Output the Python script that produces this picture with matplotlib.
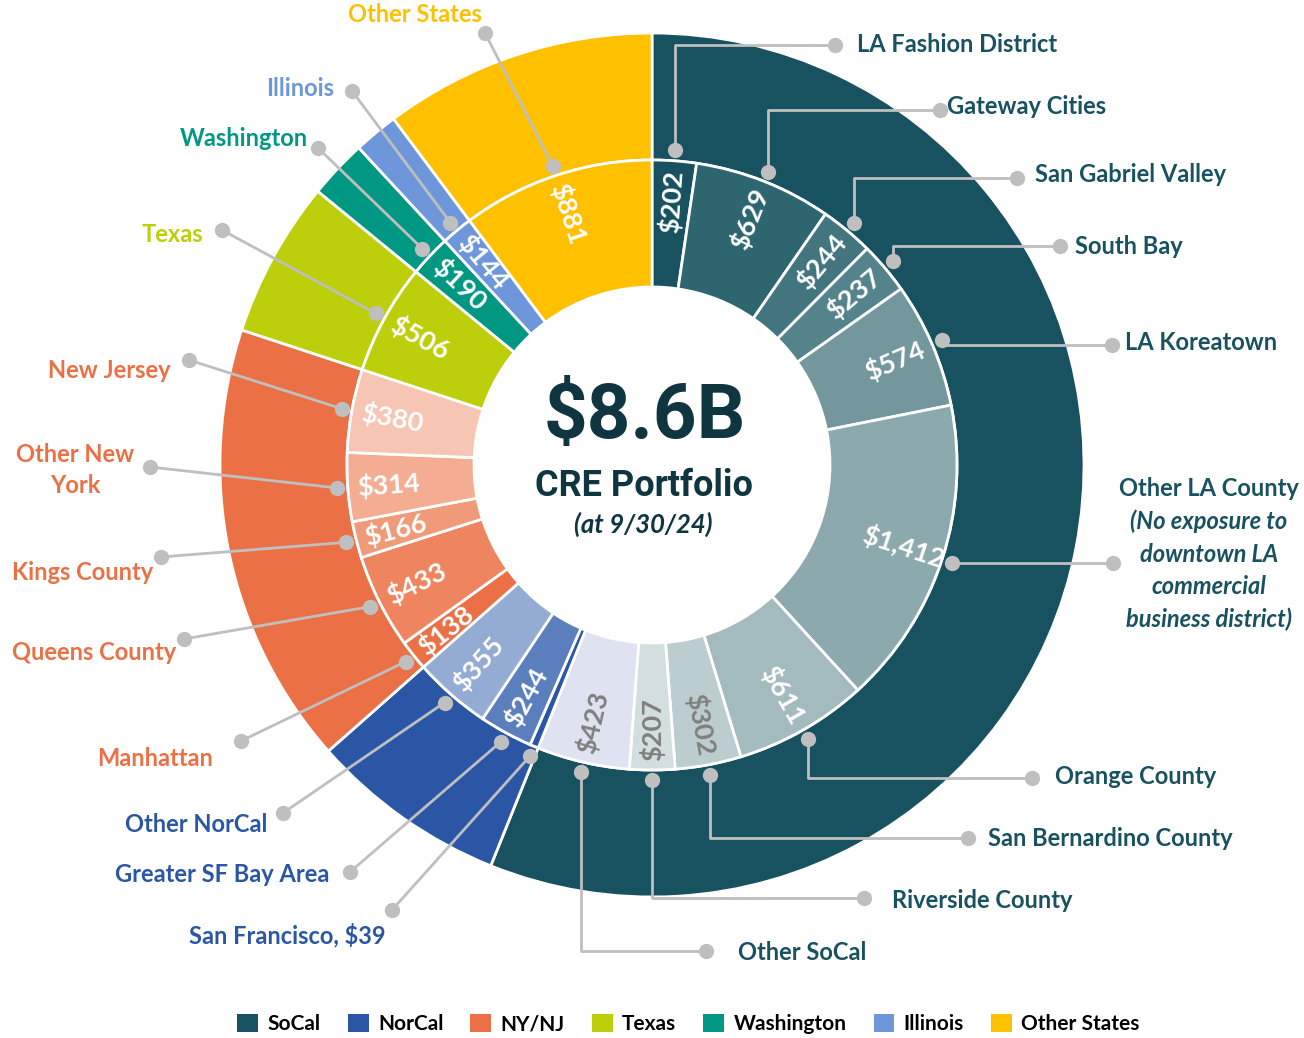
import numpy as np
import matplotlib.pyplot as plt
from matplotlib.patches import Patch

# pixel layout of the reference picture
W, H = 1304, 1038
CX, CY, R = 652, 465, 432


def px(x, y):
    # pixel position -> data coords (outer radius = 1)
    return (x - CX) / R, (CY - y) / R


regions = ['SoCal', 'NorCal', 'NY/NJ', 'Texas', 'Washington', 'Illinois', 'Other States']
region_colors = ['#18515f', '#2a56a5', '#eb7045', '#bccf0a', '#009882', '#6d96db', '#ffc000']

sub_names = ['LA Fashion District', 'Gateway Cities', 'San Gabriel Valley', 'South Bay',
             'LA Koreatown', 'Other LA County', 'Orange County', 'San Bernardino County',
             'Riverside County', 'Other SoCal',
             'San Francisco, $39', 'Greater SF Bay Area', 'Other NorCal',
             'Manhattan', 'Queens County', 'Kings County', 'Other New\nYork', 'New Jersey',
             'Texas', 'Washington', 'Illinois', 'Other States']
sub_values = [202, 629, 244, 237, 574, 1412, 611, 302, 207, 423,
              39, 244, 355,
              138, 433, 166, 314, 380,
              506, 190, 144, 881]
sub_region = [0] * 10 + [1] * 3 + [2] * 5 + [3, 4, 5, 6]
sub_colors = ['#18515f', '#2e6670', '#42757e', '#55838c', '#73979d', '#8caaae',
              '#a3babe', '#bccdd0', '#d3dee0', '#dfe3f1',
              '#2a56a5', '#5b7fbd', '#94abd3',
              '#eb7045', '#ef8560', '#f19a7a', '#f4ad93', '#f6c5b4',
              '#bccf0a', '#009882', '#6d96db', '#ffc000']
value_colors = ['white'] * 7 + ['#7f7f7f'] * 3 + [None] + ['white'] * 11  # None = no value label

# where the outside labels sit (pixels) and how they are aligned
label_pos = [(857, 45, 'left'), (947, 107, 'left'), (1035, 174, 'left'), (1075, 246, 'left'),
             (1125, 342, 'left'), (1209, 489, 'center'), (1055, 777, 'left'), (988, 838, 'left'),
             (892, 900, 'left'), (738, 953, 'left'),
             (386, 935, 'right'), (329, 875, 'right'), (267, 825, 'right'),
             (155, 758, 'center'), (176, 653, 'right'), (153, 573, 'right'), (75, 470, 'center'),
             (171, 370, 'right'), (203, 234, 'right'), (308, 139, 'right'), (334, 88, 'right'),
             (415, 14, 'center')]
# end of each leader line (pixels)
leader_end = [(835, 45), (940, 110), (1017, 178), (1060, 246), (1112, 345), (1113, 563),
              (1032, 778), (968, 838), (864, 898), (706, 951),
              (392, 910), (350, 872), (283, 813),
              (241, 741), (184, 639), (161, 557), (150, 467), (189, 360),
              (222, 230), (318, 148), (352, 91), (485, 33)]

region_totals = [sum(v for v, r in zip(sub_values, sub_region) if r == i) for i in range(len(regions))]
total = sum(sub_values)

plt.rcParams['font.family'] = ['Lato', 'DejaVu Sans']

fig = plt.figure(figsize=(W / 100, H / 100), dpi=100)
ax = fig.add_axes([0, 0, 1, 1])

ring_w = 127 / R
ax.pie(region_totals, radius=1.0, colors=region_colors, startangle=90, counterclock=False,
       wedgeprops=dict(width=ring_w, edgecolor='white', linewidth=2))
ax.pie(sub_values, radius=305 / R, colors=sub_colors, startangle=90, counterclock=False,
       wedgeprops=dict(width=ring_w, edgecolor='white', linewidth=2))

ax.set_xlim(-CX / R, (W - CX) / R)
ax.set_ylim(-(H - CY) / R, CY / R)
ax.set_aspect('equal')
ax.axis('off')

cum = np.cumsum(sub_values)
line_c = '#bfbfbf'
for i, v in enumerate(sub_values):
    mid = (cum[i] - v / 2) / total * 360
    th = np.deg2rad(90 - mid)
    rot = ((90 - mid + 89) % 180) - 89
    if value_colors[i] is not None:
        ax.text(0.612 * np.cos(th), 0.612 * np.sin(th), f'${v:,}', rotation=rot,
                rotation_mode='anchor', ha='center', va='center', fontsize=19.5,
                fontweight='bold', color=value_colors[i], zorder=5)

    # leader line
    sx, sy = 0.73 * np.cos(th), 0.73 * np.sin(th)
    ex, ey = px(*leader_end[i])
    if sub_region[i] == 0:
        xs, ys = [sx, sx, ex], [sy, ey, ey]
    else:
        xs, ys = [sx, ex], [sy, ey]
    ax.plot(xs, ys, color=line_c, lw=2, zorder=3, solid_capstyle='round')
    ax.plot([sx, ex], [sy, ey], 'o', color=line_c, ms=11, zorder=4, markeredgewidth=0)

    # outside label
    lx, ly, ha = label_pos[i]
    c = region_colors[sub_region[i]]
    tx, ty = px(lx, ly)
    if sub_names[i] == 'Other LA County':
        ax.text(tx, ty, 'Other LA County', ha='center', va='center', fontsize=17,
                fontweight='bold', color=c)
        extra = ['(No exposure to', 'downtown LA', 'commercial', 'business district)']
        for k, line in enumerate(extra):
            ax.text(tx, ty - (k + 1) * 32.5 / R, line, ha='center', va='center',
                    fontsize=17, fontweight='bold', fontstyle='italic', color=c)
    else:
        ax.text(tx, ty, sub_names[i], ha=ha, va='center', fontsize=17,
                fontweight='bold', color=c, linespacing=1.4)

# centre text
ax.text(*px(645, 418), '$8.6B', ha='center', va='center', fontsize=55,
        fontweight='bold', color='#0e3540', family='Roboto')
ax.text(*px(644, 486), 'CRE Portfolio', ha='center', va='center', fontsize=26,
        fontweight='bold', color='#0e3540', family='Roboto')
ax.text(*px(643, 524), '(at 9/30/24)', ha='center', va='center', fontsize=18.5,
        fontweight='bold', fontstyle='italic', color='#0e3540')

handles = [Patch(facecolor=c, edgecolor='none') for c in region_colors]
fig.legend(handles, regions, loc='center', bbox_to_anchor=(0.528, 0.0135), ncol=7,
           frameon=False, handlelength=1.0, handleheight=1.0, handletextpad=0.45,
           columnspacing=1.3, prop=dict(family='Lato', weight='bold', size=15))

fig.savefig('out.png', dpi=100)
